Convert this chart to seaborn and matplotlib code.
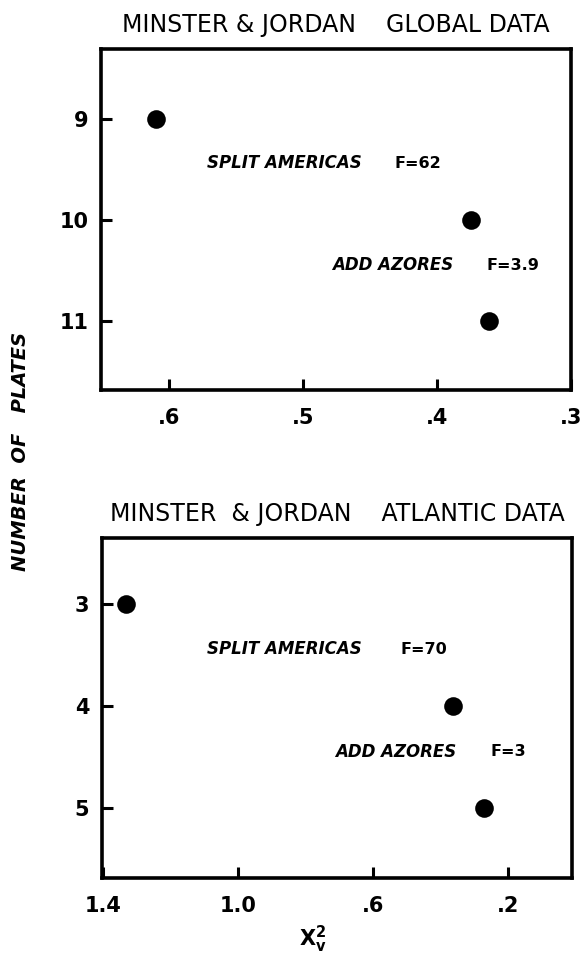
import matplotlib
matplotlib.use("Agg")
import matplotlib.pyplot as plt
import seaborn as sns
import pandas as pd

# ---- data ----
global_chi2 = [0.61, 0.375, 0.361]
global_plates = [9, 10, 11]
atlantic_chi2 = [1.332, 0.363, 0.271]
atlantic_plates = [3, 4, 5]

global_xticks = [0.6, 0.5, 0.4, 0.3]
global_xticklabels = [".6", ".5", ".4", ".3"]
atlantic_xticks = [1.4, 1.0, 0.6, 0.2]
atlantic_xticklabels = ["1.4", "1.0", ".6", ".2"]

global_title = "MINSTER & JORDAN    GLOBAL DATA"
atlantic_title = "MINSTER  & JORDAN    ATLANTIC DATA"
global_notes = [("SPLIT AMERICAS", "F=62"), ("ADD AZORES", "F=3.9")]
atlantic_notes = [("SPLIT AMERICAS", "F=70"), ("ADD AZORES", "F=3")]
y_label = "NUMBER  OF   PLATES"

sns.set_style("ticks")
plt.rcParams["font.family"] = ["DejaVu Sans"]
plt.rcParams["mathtext.fontset"] = "dejavusans"
plt.rcParams["xtick.direction"] = "in"
plt.rcParams["ytick.direction"] = "in"
plt.rcParams["text.color"] = "black"
plt.rcParams["axes.labelcolor"] = "black"
plt.rcParams["xtick.color"] = "black"
plt.rcParams["ytick.color"] = "black"
plt.rcParams["axes.edgecolor"] = "black"

W, H = 586, 956
fig = plt.figure(figsize=(W / 100, H / 100), dpi=100)


def px_axes(left, top, right, bottom):
    return fig.add_axes([left / W, 1 - bottom / H, (right - left) / W, (bottom - top) / H])


def panel(ax, xs, ys, xlim, ylim, xticks, xticklabels, title, notes, note_pos):
    df = pd.DataFrame({"chi2": xs, "plates": ys})
    sns.scatterplot(data=df, x="chi2", y="plates", ax=ax, s=180, color="black",
                    edgecolor="black", linewidth=0, legend=False, zorder=3)
    ax.set_xlim(*xlim)
    ax.set_ylim(*ylim)
    ax.set_xticks(xticks)
    ax.set_xticklabels(xticklabels, fontsize=15, fontweight="bold")
    ax.set_yticks(ys)
    ax.set_yticklabels([str(v) for v in ys], fontsize=15, fontweight="bold")
    ax.tick_params(axis="both", which="major", direction="in", length=8, width=2.2,
                   colors="black")
    ax.tick_params(axis="x", pad=13)
    ax.tick_params(axis="y", pad=9)
    for sp in ax.spines.values():
        sp.set_linewidth(2.6)
        sp.set_visible(True)
        sp.set_color("black")
    ax.set_xlabel("")
    ax.set_ylabel("")
    ax.set_title(title, fontsize=17, pad=12, color="black")
    for (label, f), (xa, xb, ya) in zip(notes, note_pos):
        ax.text(xa, ya, label, transform=ax.transAxes, fontsize=12,
                fontweight="bold", fontstyle="italic", va="center", ha="left")
        ax.text(xb, ya, f, transform=ax.transAxes, fontsize=11.5,
                fontweight="bold", va="center", ha="left")


ax1 = px_axes(101, 49, 571, 390)
panel(ax1, global_chi2, global_plates, (0.651, 0.30), (11.68, 8.31),
      global_xticks, global_xticklabels, global_title, global_notes,
      [((207 - 101) / 470, (395 - 101) / 470, 1 - (163 - 49) / 341),
       ((332 - 101) / 470, (486 - 101) / 470, 1 - (265 - 49) / 341)])

ax2 = px_axes(102, 538, 572, 878)
panel(ax2, atlantic_chi2, atlantic_plates, (1.403, 0.01), (5.69, 2.35),
      atlantic_xticks, atlantic_xticklabels, atlantic_title, atlantic_notes,
      [((207 - 102) / 470, (400 - 102) / 470, 1 - (649 - 538) / 340),
       ((335 - 102) / 470, (490 - 102) / 470, 1 - (752 - 538) / 340)])
ax2.set_xlabel(r"$\mathbf{X}^{\mathbf{2}}_{\mathbf{v}}$", fontsize=15)
ax2.xaxis.set_label_coords((313 - 102) / 470, -(924 - 878) / 340)

fig.text(21 / W, 1 - 451 / H, y_label, rotation=90, fontsize=14,
         fontweight="bold", fontstyle="italic", ha="center", va="center")

fig.savefig("out.png", dpi=100)
